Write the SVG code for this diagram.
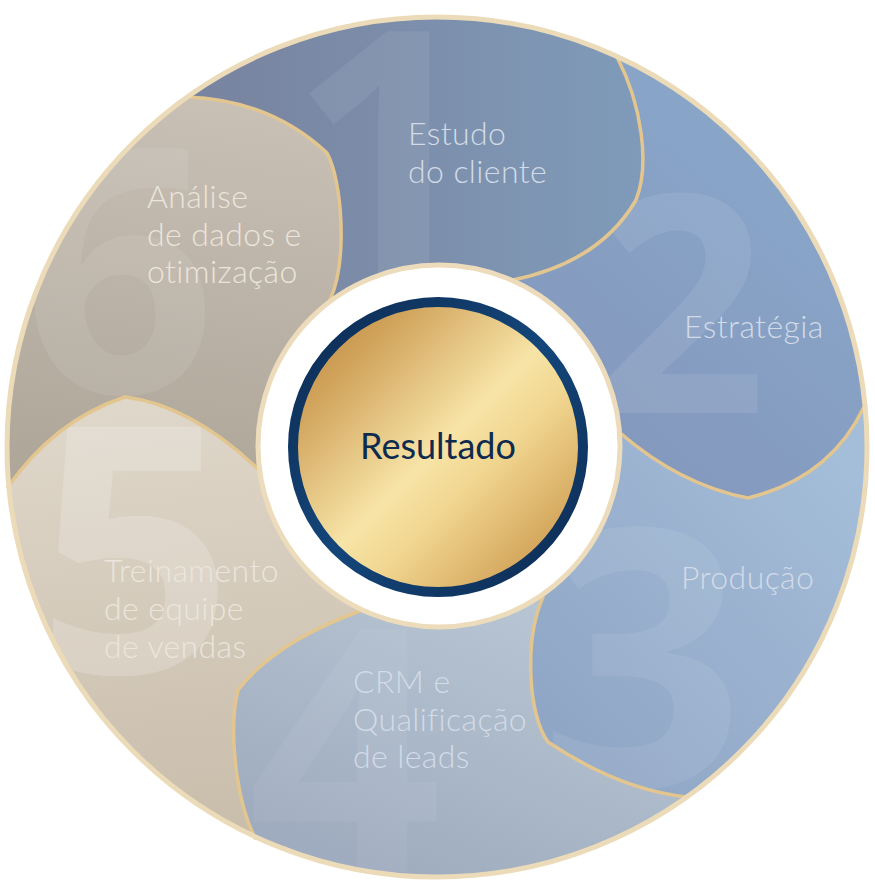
<svg xmlns="http://www.w3.org/2000/svg" xmlns:xlink="http://www.w3.org/1999/xlink" width="875" height="896" viewBox="0 0 875 896">
  <defs>
    <style>
      .lbl { font-family: Lato, "Open Sans", "DejaVu Sans", sans-serif; font-weight: 300; font-size: 32px; letter-spacing: 0.4px; }
      .lb { fill: #d2dbe7; }
      .lw { fill: #ebe5dc; }
      .num { font-family: "Open Sans", Roboto, sans-serif; font-weight: 700; fill: #ffffff; text-anchor: middle; }
      .bnd { fill: none; stroke: #e3c68f; stroke-width: 3.5; stroke-linejoin: round; stroke-linecap: round; }
    </style>
    <path id="p1" d="M187 97 A430 430 0 0 1 617 57 C642 105 650 165 636 200 Q600 262 513 280 L437 447 L330 300 C348 260 342 180 327 153 Q270 100 187 97 Z"/>
    <path id="p2" d="M617 57 A430 430 0 0 1 864 407 Q830 478 748 498 Q680 485 619 432 L437 447 L513 280 Q600 262 636 200 C650 165 642 105 617 57 Z"/>
    <path id="p3" d="M864 407 A430 430 0 0 1 687 797 Q620 790 548 742 C528 715 524 640 543 597 L437 447 L619 432 Q680 485 748 498 Q830 478 864 407 Z"/>
    <path id="p4" d="M687 797 A430 430 0 0 1 255 838 C236 800 228 730 238 690 Q275 642 360 611 L437 447 L543 597 C524 640 528 715 548 742 Q620 790 687 797 Z"/>
    <path id="p5" d="M255 838 A430 430 0 0 1 8 487 Q55 420 125 397 Q190 405 257 468 L437 447 L360 611 Q275 642 238 690 C228 730 236 800 255 838 Z"/>
    <path id="p6" d="M8 487 A430 430 0 0 1 187 97 Q270 100 327 153 C342 180 348 260 330 300 L437 447 L257 468 Q190 405 125 397 Q55 420 8 487 Z"/>
    <clipPath id="c1"><use xlink:href="#p1"/></clipPath>
    <clipPath id="c2"><use xlink:href="#p2"/></clipPath>
    <clipPath id="c3"><use xlink:href="#p3"/></clipPath>
    <clipPath id="c4"><use xlink:href="#p4"/></clipPath>
    <clipPath id="c5"><use xlink:href="#p5"/></clipPath>
    <clipPath id="c6"><use xlink:href="#p6"/></clipPath>
    <linearGradient id="g1" gradientUnits="userSpaceOnUse" x1="190" y1="150" x2="640" y2="150">
      <stop offset="0" stop-color="#78839f"/>
      <stop offset="0.4" stop-color="#7b8ca9"/>
      <stop offset="1" stop-color="#7f9bb9"/>
    </linearGradient>
    <linearGradient id="g2" gradientUnits="userSpaceOnUse" x1="580" y1="430" x2="820" y2="150">
      <stop offset="0" stop-color="#8498bd"/>
      <stop offset="1" stop-color="#89a7ca"/>
    </linearGradient>
    <linearGradient id="g3" gradientUnits="userSpaceOnUse" x1="540" y1="760" x2="860" y2="480">
      <stop offset="0" stop-color="#8ea4c4"/>
      <stop offset="1" stop-color="#a4bdd8"/>
    </linearGradient>
    <linearGradient id="g4" gradientUnits="userSpaceOnUse" x1="520" y1="600" x2="400" y2="880">
      <stop offset="0" stop-color="#b7c5d3"/>
      <stop offset="1" stop-color="#9facbf"/>
    </linearGradient>
    <linearGradient id="g5" gradientUnits="userSpaceOnUse" x1="150" y1="400" x2="200" y2="830">
      <stop offset="0" stop-color="#dfd7ca"/>
      <stop offset="1" stop-color="#c9bdab"/>
    </linearGradient>
    <linearGradient id="g6" gradientUnits="userSpaceOnUse" x1="200" y1="100" x2="150" y2="470">
      <stop offset="0" stop-color="#c8c0b5"/>
      <stop offset="1" stop-color="#b0a79b"/>
    </linearGradient>
    <linearGradient id="gold" x1="0" y1="0" x2="1" y2="1">
      <stop offset="0" stop-color="#bd853a"/>
      <stop offset="0.2" stop-color="#d0a25a"/>
      <stop offset="0.5" stop-color="#f7e4a7"/>
      <stop offset="0.62" stop-color="#f1d690"/>
      <stop offset="0.85" stop-color="#d4a65c"/>
      <stop offset="1" stop-color="#bd853a"/>
    </linearGradient>
    <linearGradient id="ring" x1="0" y1="0" x2="1" y2="1">
      <stop offset="0" stop-color="#0c2a50"/>
      <stop offset="0.5" stop-color="#14467a"/>
      <stop offset="1" stop-color="#0c2a50"/>
    </linearGradient>
  </defs>

  <circle cx="437" cy="447" r="430" fill="#9aa6ba"/>

  <g id="seg1">
    <use xlink:href="#p1" fill="url(#g1)"/>
    <text class="num" x="386" y="274" font-size="340" fill-opacity="0.07" clip-path="url(#c1)">1</text>
    <text class="lbl lb" x="408" y="145">Estudo</text>
    <text class="lbl lb" x="408" y="183">do cliente</text>
  </g>
  <g id="seg2">
    <use xlink:href="#p2" fill="url(#g2)"/>
    <text class="num" x="680" y="413" font-size="305" fill-opacity="0.09" clip-path="url(#c2)">2</text>
    <text class="lbl lb" x="684" y="338">Estratégia</text>
  </g>
  <g id="seg3">
    <use xlink:href="#p3" fill="url(#g3)"/>
    <text class="num" x="642" y="787" font-size="360" fill-opacity="0.08" clip-path="url(#c3)">3</text>
    <text class="lbl lb" x="681" y="589">Produção</text>
  </g>
  <g id="seg4">
    <use xlink:href="#p4" fill="url(#g4)"/>
    <text class="num" x="345" y="872" font-size="340" fill-opacity="0.06" clip-path="url(#c4)">4</text>
    <text class="lbl lb" x="353" y="693">CRM e</text>
    <text class="lbl lb" x="353" y="731">Qualificação</text>
    <text class="lbl lb" x="353" y="768">de leads</text>
  </g>
  <g id="seg5">
    <use xlink:href="#p5" fill="url(#g5)"/>
    <text class="num" x="135" y="673" font-size="345" fill-opacity="0.18" clip-path="url(#c5)">5</text>
    <text class="lbl lw" x="104" y="582">Treinamento</text>
    <text class="lbl lw" x="104" y="620">de equipe</text>
    <text class="lbl lw" x="104" y="658">de vendas</text>
  </g>
  <g id="seg6">
    <use xlink:href="#p6" fill="url(#g6)"/>
    <text class="num" x="119" y="393" font-size="340" fill-opacity="0.08" clip-path="url(#c6)">6</text>
    <text class="lbl lw" x="147" y="208">Análise</text>
    <text class="lbl lw" x="147" y="246">de dados e</text>
    <text class="lbl lw" x="147" y="283">otimização</text>
  </g>

  <g id="connectors">
    <path class="bnd" d="M617 57 C642 105 650 165 636 200 Q600 262 513 280"/>
    <path class="bnd" d="M864 407 Q830 478 748 498 Q680 485 619 432"/>
    <path class="bnd" d="M687 797 Q620 790 548 742 C528 715 524 640 543 597"/>
    <path class="bnd" d="M255 838 C236 800 228 730 238 690 Q275 642 360 611"/>
    <path class="bnd" d="M8 487 Q55 420 125 397 Q190 405 257 468"/>
    <path class="bnd" d="M187 97 Q270 100 327 153 C342 180 348 260 330 300"/>
  </g>

  <circle cx="437" cy="447" r="430" fill="none" stroke="#ecdbb8" stroke-width="5"/>

  <g id="center">
    <circle cx="439" cy="446" r="181" fill="#ffffff" stroke="#ecdcbc" stroke-width="5"/>
    <circle cx="438" cy="447" r="145" fill="url(#gold)" stroke="url(#ring)" stroke-width="10"/>
    <text x="438" y="459" font-family="Lato, 'Open Sans', sans-serif" font-size="36" fill="#0f2a4f" text-anchor="middle">Resultado</text>
  </g>
</svg>
